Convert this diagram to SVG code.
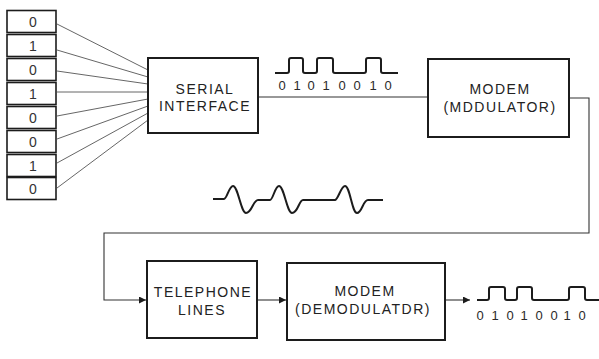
<svg xmlns="http://www.w3.org/2000/svg" width="599" height="359" viewBox="0 0 599 359">
<defs>
<style>
.box{fill:#fff;stroke:#1c1c1c;stroke-width:2}
.cell{fill:#fff;stroke:#1c1c1c;stroke-width:1.6}
.lbl{font-family:"Liberation Sans",Arial,sans-serif;font-size:14px;letter-spacing:1.5px;fill:#222;text-anchor:middle}
.dig{font-family:"Liberation Sans",Arial,sans-serif;font-size:14px;fill:#333;text-anchor:middle}
.bit{font-family:"Liberation Sans",Arial,sans-serif;font-size:13px;fill:#2a2a2a;text-anchor:middle}
.wire{fill:none;stroke:#333;stroke-width:1.1}
.fan{fill:none;stroke:#555;stroke-width:0.9}
.sig{fill:none;stroke:#1c1c1c;stroke-width:2;stroke-linejoin:round}
</style>
<marker id="arr" viewBox="0 0 10 10" refX="10" refY="5" markerWidth="9" markerHeight="7" markerUnits="userSpaceOnUse" orient="auto">
<path d="M0,0 L10,5 L0,10 z" fill="#1c1c1c"/>
</marker>
</defs>
<rect width="599" height="359" fill="#fff"/>

<g id="register">
<rect class="cell" x="7" y="10.5" width="49" height="22"/>
<rect class="cell" x="7" y="34.5" width="49" height="22"/>
<rect class="cell" x="7" y="58.5" width="49" height="22"/>
<rect class="cell" x="7" y="82.5" width="49" height="22"/>
<rect class="cell" x="7" y="106.5" width="49" height="22"/>
<rect class="cell" x="7" y="130.5" width="49" height="22"/>
<rect class="cell" x="7" y="154.5" width="49" height="22"/>
<rect class="cell" x="7" y="177.5" width="49" height="22"/>
<text class="dig" x="33" y="27">0</text>
<text class="dig" x="33" y="51">1</text>
<text class="dig" x="33" y="75">0</text>
<text class="dig" x="33" y="99">1</text>
<text class="dig" x="33" y="123">0</text>
<text class="dig" x="33" y="147">0</text>
<text class="dig" x="33" y="171">1</text>
<text class="dig" x="33" y="194">0</text>
</g>

<g id="connectors">
<path class="fan" d="M57,24 L148,70"/>
<path class="fan" d="M57,50 L148,77"/>
<path class="fan" d="M57,71 L148,84"/>
<path class="fan" d="M57,92 L148,92"/>
<path class="fan" d="M57,116 L148,99"/>
<path class="fan" d="M57,139 L148,106"/>
<path class="fan" d="M57,163 L148,113"/>
<path class="fan" d="M57,188 L148,120"/>
<path class="wire" d="M258,97 H428"/>
<path class="wire" d="M570,98 H589 V233 H104 V300 H146" marker-end="url(#arr)"/>
<path class="wire" d="M258,300 H286" marker-end="url(#arr)"/>
<path class="wire" d="M445,300 H470" marker-end="url(#arr)"/>
</g>

<g id="serial-interface">
<rect class="box" x="148" y="58" width="110" height="75"/>
<text class="lbl" x="205" y="94">SERIAL</text>
<text class="lbl" x="205" y="111">INTERFACE</text>
</g>

<g id="modem-modulator">
<rect class="box" x="428" y="59" width="141" height="78"/>
<text class="lbl" x="500" y="94">MODEM</text>
<text class="lbl" x="500" y="112">(MDDULATOR)</text>
</g>

<g id="telephone-lines">
<rect class="box" x="147" y="261" width="110" height="77"/>
<text class="lbl" x="203" y="297">TELEPHONE</text>
<text class="lbl" x="202" y="315">LINES</text>
</g>

<g id="modem-demodulator">
<rect class="box" x="287" y="263" width="158" height="77"/>
<text class="lbl" x="365" y="296">MODEM</text>
<text class="lbl" x="363" y="314">(DEMODULATDR)</text>
</g>

<g id="digital-signal-top">
<path class="sig" d="M275,73 H287 Q289,73 289,71 V60 Q289,58 291,58 H301 Q303,58 303,60 V71 Q303,73 305,73 H315 Q317,73 317,71 V60 Q317,58 319,58 H331 Q333,58 333,60 V71 Q333,73 335,73 H364 Q366,73 366,71 V60 Q366,58 368,58 H379 Q381,58 381,60 V71 Q381,73 383,73 H398"/>
<text class="bit" x="282" y="90">0</text>
<text class="bit" x="297" y="90">1</text>
<text class="bit" x="311" y="90">0</text>
<text class="bit" x="326" y="90">1</text>
<text class="bit" x="342" y="90">0</text>
<text class="bit" x="357" y="90">0</text>
<text class="bit" x="373" y="90">1</text>
<text class="bit" x="388" y="90">0</text>
</g>

<g id="analog-signal">
<path class="sig" d="M213,199 H224 C227,199 229,186 233,186 C238,186 241,213 246,213 C252,213 253,200 258,200 H270 C273,200 275,186 279,186 C284,186 287,213 292,213 C298,213 299,200 303,200 H335 C338,200 341,186 345,186 C350,186 352,213 357,213 C362,213 363,200 368,200 H383"/>
</g>

<g id="digital-signal-bottom">
<path class="sig" d="M477,300 H487 Q489,300 489,298 V289 Q489,287 491,287 H503 Q505,287 505,289 V298 Q505,300 507,300 H515 Q517,300 517,298 V289 Q517,287 519,287 H530 Q532,287 532,289 V298 Q532,300 534,300 H567 Q569,300 569,298 V289 Q569,287 571,287 H583 Q585,287 585,289 V298 Q585,300 587,300 H599"/>
<text class="bit" x="480" y="320">0</text>
<text class="bit" x="495" y="320">1</text>
<text class="bit" x="510" y="320">0</text>
<text class="bit" x="524" y="320">1</text>
<text class="bit" x="539" y="320">0</text>
<text class="bit" x="554" y="320">0</text>
<text class="bit" x="567" y="320">1</text>
<text class="bit" x="582" y="320">0</text>
</g>
</svg>
